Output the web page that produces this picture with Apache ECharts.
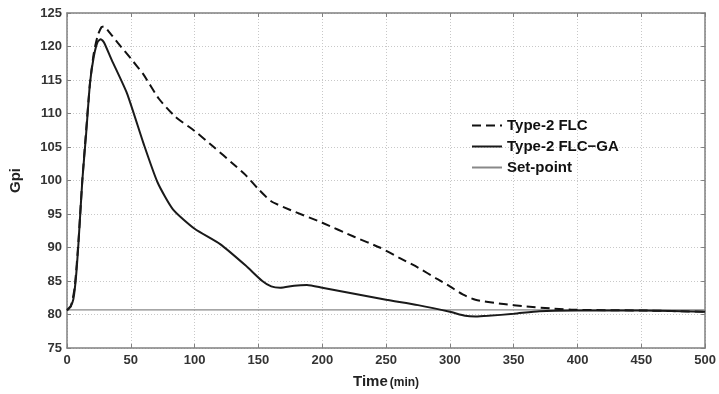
<!DOCTYPE html>
<html>
<head>
<meta charset="utf-8">
<script src="https://cdn.jsdelivr.net/npm/echarts@6/dist/echarts.min.js"></script>
<style>
  html, body { margin: 0; padding: 0; background: #fff; }
  #chart { width: 719px; height: 394px; }
</style>
</head>
<body>
<div id="chart"></div>
<script>
// Type-2 FLC (dashed)
const flcTime = [0, 3, 6, 9, 12, 15, 18, 21, 24, 27, 29, 32, 40, 50, 60, 72, 85, 100, 115, 130, 140, 150, 160, 175, 200, 225, 245, 260, 275, 290, 300, 310, 320, 340, 360, 380, 400, 450, 500]
const flcGpi = [80.7, 81.2, 84, 91, 100, 107.5, 114.5, 119, 121.6, 122.9, 123, 122.4, 120.5, 118.2, 115.8, 112.2, 109.5, 107.4, 105, 102.5, 100.8, 98.7, 96.9, 95.6, 93.7, 91.6, 90, 88.5, 87, 85.3, 84.2, 83, 82.2, 81.6, 81.2, 80.9, 80.7, 80.6, 80.4]

// Type-2 FLC-GA (solid)
const gaTime = [0, 3, 5, 7, 9, 12, 15, 18, 21, 24, 26.5, 29, 35, 47, 60, 71, 83, 100, 120, 140, 153, 160, 167, 178, 188, 200, 225, 250, 275, 300, 312, 320, 330, 350, 370, 400, 450, 500]
const gaGpi = [80.6, 81.3, 82.3, 85.5, 90.7, 100, 107, 114.5, 118.5, 120.7, 121.1, 120.6, 118, 113, 105.5, 99.7, 95.7, 92.8, 90.5, 87.3, 85, 84.2, 84, 84.3, 84.4, 84, 83.1, 82.2, 81.4, 80.4, 79.8, 79.7, 79.8, 80.1, 80.5, 80.6, 80.6, 80.4]

const setPoint = 80.7
const setTime = [0, 500]

const zip = (xs, ys) => xs.map((x, i) => [x, ys[i]])

const labelFont = { fontFamily: 'Liberation Sans', fontWeight: 'bold', fontSize: 13, color: '#333' }
const frame = { color: '#808080', width: 1.5 }

const chart = echarts.init(document.getElementById('chart'))
chart.setOption({
  animation: false,
  backgroundColor: '#fff',
  grid: { left: 67, right: 11, top: 13, bottom: 44 },
  legend: {
    orient: 'vertical',
    left: 466,
    top: 113,
    itemWidth: 30,
    itemHeight: 10,
    itemGap: 6,
    itemStyle: { opacity: 0 },
    textStyle: { fontFamily: 'Liberation Sans', fontWeight: 'bold', fontSize: 15, color: '#111' },
    data: ['Type-2 FLC', 'Type-2 FLC\u2212GA', 'Set-point']
  },
  xAxis: [{
    type: 'value',
    min: 0, max: 500, interval: 50,
    name: '{a|Time}{b|(min)}',
    nameLocation: 'middle',
    nameGap: 26,
    nameTextStyle: {
      rich: {
        a: { fontFamily: 'Liberation Sans', fontWeight: 'bold', fontSize: 15, color: '#222' },
        b: { fontFamily: 'Liberation Sans', fontWeight: 'bold', fontSize: 12, color: '#222', padding: [2, 0, 0, 2] }
      }
    },
    axisLine: { onZero: false, lineStyle: frame },
    axisTick: { inside: true, length: 4, lineStyle: { color: '#808080' } },
    axisLabel: Object.assign({ margin: 6 }, labelFont),
    splitLine: { show: true, lineStyle: { color: '#c8c8c8', type: [1, 2] } }
  }, {
    type: 'value', position: 'top',
    min: 0, max: 500, interval: 50,
    axisLine: { onZero: false, lineStyle: frame },
    axisTick: { inside: true, length: 4, lineStyle: { color: '#808080' } },
    axisLabel: { show: false },
    splitLine: { show: false }
  }],
  yAxis: [{
    type: 'value',
    min: 75, max: 125, interval: 5,
    name: 'Gpi',
    nameLocation: 'middle',
    nameGap: 44,
    nameTextStyle: { fontFamily: 'Liberation Sans', fontWeight: 'bold', fontSize: 15, color: '#222' },
    axisLine: { show: true, onZero: false, lineStyle: frame },
    axisTick: { show: true, inside: true, length: 4, lineStyle: { color: '#808080' } },
    axisLabel: Object.assign({ margin: 5 }, labelFont),
    splitLine: { show: true, lineStyle: { color: '#c8c8c8', type: [1, 2] } }
  }, {
    type: 'value', position: 'right',
    min: 75, max: 125, interval: 5,
    axisLine: { show: true, onZero: false, lineStyle: frame },
    axisTick: { show: true, inside: true, length: 4, lineStyle: { color: '#808080' } },
    axisLabel: { show: false },
    splitLine: { show: false }
  }],
  series: [
    {
      name: 'Type-2 FLC',
      type: 'line',
      symbol: 'none',
      smooth: 0.2,
      z: 3,
      itemStyle: { color: '#111' },
      lineStyle: { color: '#111', width: 2, type: [9, 5] },
      data: zip(flcTime, flcGpi)
    },
    {
      name: 'Type-2 FLC\u2212GA',
      type: 'line',
      symbol: 'none',
      smooth: 0.2,
      z: 4,
      itemStyle: { color: '#1a1a1a' },
      lineStyle: { color: '#1a1a1a', width: 2 },
      data: zip(gaTime, gaGpi)
    },
    {
      name: 'Set-point',
      type: 'line',
      symbol: 'none',
      z: 2,
      itemStyle: { color: '#888' },
      lineStyle: { color: '#888', width: 1.2 },
      data: setTime.map(t => [t, setPoint])
    }
  ]
})
</script>
</body>
</html>
